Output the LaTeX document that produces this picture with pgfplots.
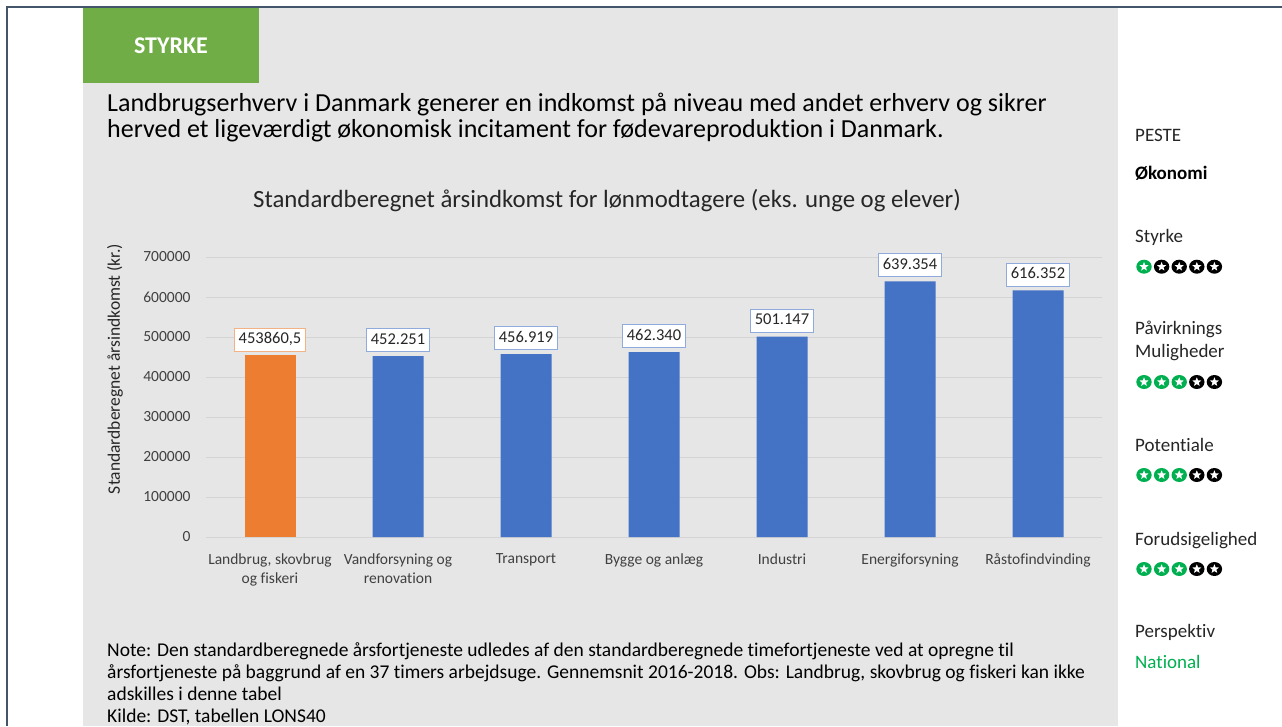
\documentclass[border=0pt]{standalone}
\usepackage{fontspec}
\setmainfont{Carlito}[Ligatures=NoCommon]
\usepackage{pgfplots}
\pgfplotsset{compat=1.18}
\usepackage{pgfplotstable}
\usetikzlibrary{shapes.geometric}

\definecolor{panel}{HTML}{E7E6E6}
\definecolor{framec}{HTML}{44546A}
\definecolor{hdrgreen}{HTML}{70AD47}
\definecolor{barblue}{HTML}{4472C4}
\definecolor{barorange}{HTML}{ED7D31}
\definecolor{starg}{HTML}{00B050}
\definecolor{gridc}{HTML}{D4D4D4}
\definecolor{lblblue}{HTML}{8FAADC}
\definecolor{lblorange}{HTML}{F4B183}
\definecolor{tickc}{HTML}{404040}
\definecolor{titlec}{HTML}{262626}

\pgfplotstableread{
x y label
1 452251 452.251
2 456919 456.919
3 462340 462.340
4 501147 501.147
5 639354 639.354
6 616352 616.352
}\bluedata

\pgfplotstableread{
x y label
0 453860.5 453860,5
}\orangedata

\newcommand{\starrow}[3]{%
  \foreach \i in {0,...,4}{%
    \pgfmathsetmacro{\cx}{#1+17.6*\i}%
    \ifnum\i<#3\relax\def\cc{starg}\else\def\cc{black}\fi
    \fill[\cc] (\cx pt,-#2 pt) ellipse (7.7pt and 7pt);
    \node[star,star points=5,star point ratio=2.3,fill=white,inner sep=0pt,minimum size=9.5pt] at (\cx pt,-#2 pt) {};
  }%
}

\begin{document}
\begin{tikzpicture}
\useasboundingbox (0pt,0pt) rectangle (1282pt,-726pt);
\fill[white] (0pt,0pt) rectangle (1282pt,-726pt);
% panel
\fill[panel] (83pt,-7pt) rectangle (1118pt,-726pt);
\fill[hdrgreen] (83pt,-7pt) rectangle (259pt,-83pt);
\draw[framec, line width=2pt] (7pt,-726pt) -- (7pt,-7pt) -- (1282pt,-7pt);
\node[text=white, font=\fontsize{24}{26}\selectfont\bfseries] at (171pt,-46pt) {STYRKE};

% heading
\node[anchor=base west, inner sep=0pt, text=black, font=\fontsize{26}{27}\selectfont] at (107pt,-111pt) {Landbrugserhverv i Danmark generer en indkomst på niveau med andet erhverv og sikrer};
\node[anchor=base west, inner sep=0pt, text=black, font=\fontsize{26}{27}\selectfont] at (107pt,-137pt) {herved et ligeværdigt økonomisk incitament for fødevareproduktion i Danmark.};

% chart title
\node[anchor=base, inner sep=0pt, text=titlec, font=\fontsize{24.8}{27}\selectfont] at (607pt,-207pt) {Standardberegnet årsindkomst for lønmodtagere (eks. unge og elever)};

\begin{axis}[
  at={(206pt,-537pt)}, anchor=south west,
  scale only axis, width=896pt, height=280pt,
  xmin=-0.5, xmax=6.5, ymin=0, ymax=700000,
  clip=false,
  ybar, bar width=51pt,
  axis line style={draw=none},
  major tick length=0pt,
  ytick={0,100000,...,700000},
  ymajorgrids, grid style={gridc, line width=0.8pt},
  scaled y ticks=false,
  yticklabel style={/pgf/number format/fixed, /pgf/number format/precision=0, /pgf/number format/1000 sep={}, /pgf/number format/assume math mode=true, font=\fontsize{15.5}{18}\selectfont, text=tickc, anchor=east, xshift=-12pt},
  xtick={0,...,6},
  xticklabels={{Landbrug, skovbrug\\og fiskeri},{Vandforsyning og\\renovation},Transport,{Bygge og anlæg},Industri,Energiforsyning,Råstofindvinding},
  xticklabel style={align=center, font=\fontsize{15.5}{19.5}\selectfont, text=tickc, anchor=north, yshift=-13pt},
  ylabel={Standardberegnet årsindkomst (kr.)},
  ylabel style={at={(axis description cs:-0.1016,0.6)}, anchor=center, font=\fontsize{17.5}{19}\selectfont, text=titlec},
  nodes near coords,
  point meta=explicit symbolic,
  nodes near coords style={fill=white, text=titlec, font=\fontsize{16.5}{18}\selectfont, inner xsep=4pt, inner ysep=5.25pt, text height=10.5pt, text depth=2pt, line width=0.9pt, anchor=south, yshift=4pt},
]
\addplot[fill=barorange, draw=none, bar shift=0pt, every node near coord/.append style={draw=lblorange}] table[x=x, y=y, meta=label] {\orangedata};
\addplot[fill=barblue, draw=none, bar shift=0pt, every node near coord/.append style={draw=lblblue}] table[x=x, y=y, meta=label] {\bluedata};
\end{axis}

% note
\begin{scope}[every node/.style={anchor=base west, inner sep=0pt, text=black, font=\fontsize{19.5}{22}\selectfont}]
\node at (107pt,-656pt) {Note: Den standardberegnede årsfortjeneste udledes af den standardberegnede timefortjeneste ved at opregne til};
\node at (107pt,-678pt) {årsfortjeneste på baggrund af en 37 timers arbejdsuge. Gennemsnit 2016-2018. Obs: Landbrug, skovbrug og fiskeri kan ikke};
\node at (107pt,-700pt) {adskilles i denne tabel};
\node at (107pt,-722pt) {Kilde: DST, tabellen LONS40};
\end{scope}

% sidebar
\begin{scope}[every node/.style={anchor=base west, inner sep=0pt, text=titlec, font=\fontsize{19}{22}\selectfont}]
\node at (1135pt,-141pt) {PESTE};
\node[font=\fontsize{19}{22}\selectfont\bfseries, text=black] at (1135pt,-179pt) {Økonomi};
\node at (1135pt,-242pt) {Styrke};
\node at (1135pt,-334pt) {Påvirknings};
\node at (1135pt,-357pt) {Muligheder};
\node at (1135pt,-451pt) {Potentiale};
\node at (1135pt,-545pt) {Forudsigelighed};
\node at (1135pt,-637pt) {Perspektiv};
\node[text=starg] at (1135pt,-668pt) {National};
\end{scope}
\starrow{1144}{266.7}{1}
\starrow{1144}{382}{3}
\starrow{1144}{475}{3}
\starrow{1144}{569}{3}
\end{tikzpicture}
\end{document}
